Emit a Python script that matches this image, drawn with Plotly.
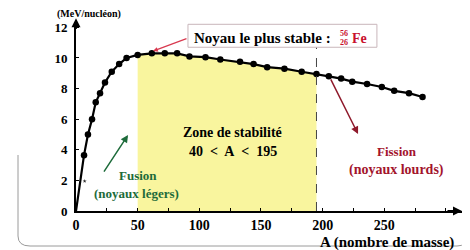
import plotly.graph_objects as go

# Binding energy per nucleon
A_vals = [0, 6.5, 9.7, 13, 16, 19.5, 23.5, 29, 35, 41, 50, 61.5, 72, 82, 92, 105, 117, 133, 144,
          155, 169, 183, 195, 205, 215, 224, 236, 248, 258, 270, 281]
E_vals = [0, 3.65, 5.0, 6.0, 7.1, 7.7, 8.4, 9.1, 9.6, 10.0, 10.2, 10.3, 10.3, 10.3, 10.1, 10.05, 9.9,
          9.75, 9.6, 9.4, 9.3, 9.1, 8.95, 8.8, 8.65, 8.45, 8.3, 8.1, 7.85, 7.7, 7.45]
star_A = [7]
star_E = [1.95]
zone_lo, zone_hi = 50, 195
x_ticks = [0, 50, 100, 150, 200, 250]
y_ticks = [0, 2, 4, 6, 8, 10, 12]

SERIF = "Liberation Serif"
RED = "#c8102e"
DRED = "#a3142c"
GREEN = "#1d6b3a"

# screen -> paper helpers (plot area on screen: x 76..462, y 22..211)
def px(sx):
    return (sx - 76) / 386.0

def py(sy):
    return (211 - sy) / 189.0

zA = [a for a in A_vals if zone_lo <= a <= zone_hi]
zE = [e for a, e in zip(A_vals, E_vals) if zone_lo <= a <= zone_hi]

fig = go.Figure()
fig.add_trace(go.Scatter(x=zA, y=zE, mode="lines", line=dict(width=0, color="#f8f49c"),
                         fill="tozeroy", fillcolor="#f9f59e", hoverinfo="skip"))
fig.add_trace(go.Scatter(x=A_vals, y=E_vals, mode="lines", line=dict(color="black", width=2.2),
                         cliponaxis=False))
fig.add_trace(go.Scatter(x=A_vals[1:], y=E_vals[1:], mode="markers",
                         marker=dict(color="black", size=6.5), cliponaxis=False))
fig.add_trace(go.Scatter(x=star_A, y=star_E, mode="markers",
                         marker=dict(color="#333", size=3, symbol="star")))

fig.add_shape(type="line", x0=zone_hi, x1=zone_hi, y0=0, y1=10.7,
              line=dict(color="#444", width=1, dash="dash"))
# box around "most stable nucleus"
fig.add_shape(type="rect", x0=90.8, x1=244, y0=10.7, y1=12.2,
              line=dict(color="#c9b6bb", width=1), fillcolor="white", layer="above")

def bold(size, color="black"):
    return dict(family=SERIF, size=size, color=color, weight="bold")

ann = []
ann.append(dict(x=151, y=11.3, text="Noyau le plus stable :", showarrow=False, font=bold(15)))
ann.append(dict(x=217.5, y=11.6, text="56", showarrow=False, font=bold(8, RED)))
ann.append(dict(x=217.5, y=11.0, text="26", showarrow=False, font=bold(8, RED)))
ann.append(dict(x=230, y=11.3, text="Fe", showarrow=False, font=bold(14, RED)))
ann.append(dict(x=62.5, y=10.45, ax=90.8, ay=11.3, axref="x", ayref="y", text="",
                showarrow=True, arrowhead=2, arrowsize=0.8, arrowwidth=1.2, arrowcolor="#d8394f"))
ann.append(dict(x=127, y=5.16, text="Zone de stabilité", showarrow=False, font=bold(14)))
ann.append(dict(x=127, y=3.86, text="40\u00a0 <\u00a0 A\u00a0 <\u00a0 195", showarrow=False, font=bold(14)))
ann.append(dict(x=260, y=3.86, text="Fission", showarrow=False, font=bold(13, DRED)))
ann.append(dict(x=260, y=2.68, text="(noyaux lourds)", showarrow=False, font=bold(14, DRED)))
ann.append(dict(x=228.7, y=5.03, ax=206, ay=8.7, axref="x", ayref="y", text="",
                showarrow=True, arrowhead=2, arrowsize=1, arrowwidth=1.5, arrowcolor="#8f1a2c"))
ann.append(dict(x=50, y=2.35, text="Fusion", showarrow=False, font=bold(13, GREEN)))
ann.append(dict(x=49, y=1.15, text="(noyaux légers)", showarrow=False, font=bold(13, GREEN)))
ann.append(dict(x=42.2, y=4.97, ax=21.9, ay=2.48, axref="x", ayref="y", text="",
                showarrow=True, arrowhead=2, arrowsize=1, arrowwidth=1.5, arrowcolor=GREEN))
# axis arrows
ann.append(dict(x=313, y=0, ax=300, ay=0, axref="x", ayref="y", text="", showarrow=True,
                arrowhead=2, arrowsize=1, arrowwidth=1.8, arrowcolor="black"))
ann.append(dict(x=0, y=12.6, ax=0, ay=11.8, axref="x", ayref="y", text="", showarrow=True,
                arrowhead=2, arrowsize=1, arrowwidth=1.8, arrowcolor="black"))
ann.append(dict(x=309, y=-1.05, text="A", showarrow=False, font=bold(14)))
ann.append(dict(x=px(456), y=py(242), xref="paper", yref="paper", xanchor="right", yanchor="middle",
                text="A (nombre de masse)", showarrow=False, font=bold(15)))
ann.append(dict(x=px(55), y=py(14.5), xref="paper", yref="paper", yanchor="middle", text="(MeV/nucléon)",
                showarrow=False, font=bold(10)))

# outer rounded frame (partial, as in the photo)
frame = (f"M {px(18)},{py(155)} L {px(18)},{py(236)} Q {px(18)},{py(246)} {px(30)},{py(246)} "
         f"L {px(457)},{py(246)} Q {px(467)},{py(246)} {px(467)},{py(236)} L {px(467)},{py(0)}")
fig.add_shape(type="path", xref="paper", yref="paper", path=frame,
              line=dict(color="#9a9a9a", width=1))

# the page adds an 8px body margin, so the figure is shifted by (8, 8) on screen
fig.update_layout(
    width=462, height=242, margin=dict(l=68, r=8, t=14, b=39),
    paper_bgcolor="white", plot_bgcolor="white", showlegend=False,
    annotations=ann,
    xaxis=dict(range=[0, 313], showgrid=False, zeroline=False, showline=True, linecolor="black",
               linewidth=1.8, tickvals=x_ticks, ticks="inside", ticklen=3, tickcolor="black",
               minor=dict(dtick=25, ticks="inside", ticklen=3, tickcolor="black"),
               tickfont=bold(14)),
    yaxis=dict(range=[0, 12.35], showgrid=False, zeroline=False, showline=True, linecolor="black",
               linewidth=1.8, tickvals=y_ticks, ticks="inside", ticklen=3, tickcolor="black",
               ticklabelstandoff=4, tickfont=bold(13)),
)
fig.write_html("out.html")
